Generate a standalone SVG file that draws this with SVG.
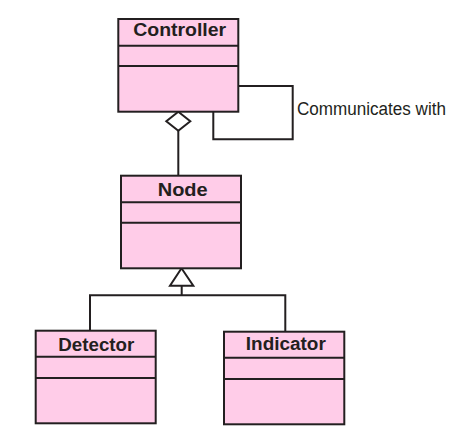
<svg xmlns="http://www.w3.org/2000/svg" width="476" height="444" viewBox="0 0 476 444">
<style>
.box{fill:#FFCCE8;stroke:#231F20;stroke-width:2}
.div{stroke:#231F20;stroke-width:2;fill:none}
.t{font-family:"Liberation Sans",Arial,sans-serif;font-weight:bold;font-size:18px;fill:#231F20;text-anchor:middle}
.lbl{font-family:"Liberation Sans",Arial,sans-serif;font-size:18px;fill:#231F20}
.c{stroke:#231F20;stroke-width:2;fill:none}
</style>
<rect width="476" height="444" fill="#fff"/>
<g id="connectors">
<path class="c" d="M238.3,86 H292.7 V139.3 H213.3 V111.7"/>
<path class="c" d="M178.3,130.7 V175.7"/>
<path d="M178.3,111.7 L190.3,121.2 L178.3,130.7 L166.3,121.2 Z" fill="#fff" stroke="#231F20" stroke-width="2"/>
<path class="c" d="M181.7,285.7 V295.3 M90,330.7 V295.3 H285.3 V331.7"/>
<path d="M181.5,268.3 L193.3,285.7 L170,285.7 Z" fill="#fff" stroke="#231F20" stroke-width="2"/>
<text class="lbl" x="297" y="115" textLength="149" lengthAdjust="spacingAndGlyphs">Communicates with</text>
</g>
<g id="controller">
<rect class="box" x="118.3" y="19" width="120" height="92.7"/>
<path class="div" d="M118.3,45.7 H238.3 M118.3,66 H238.3"/>
<text class="t" x="179.7" y="36" textLength="93" lengthAdjust="spacingAndGlyphs">Controller</text>
</g>
<g id="node">
<rect class="box" x="121" y="175.7" width="120" height="92.6"/>
<path class="div" d="M121,202.3 H241 M121,222.7 H241"/>
<text class="t" x="182.7" y="195.7" textLength="50" lengthAdjust="spacingAndGlyphs">Node</text>
</g>
<g id="detector">
<rect class="box" x="35.7" y="330.7" width="120" height="92.6"/>
<path class="div" d="M35.7,356.7 H155.7 M35.7,378 H155.7"/>
<text class="t" x="96.3" y="351" textLength="76" lengthAdjust="spacingAndGlyphs">Detector</text>
</g>
<g id="indicator">
<rect class="box" x="224" y="331.7" width="120.3" height="92.6"/>
<path class="div" d="M224,357.7 H344.3 M224,379 H344.3"/>
<text class="t" x="285.8" y="350" textLength="80" lengthAdjust="spacingAndGlyphs">Indicator</text>
</g>
</svg>
